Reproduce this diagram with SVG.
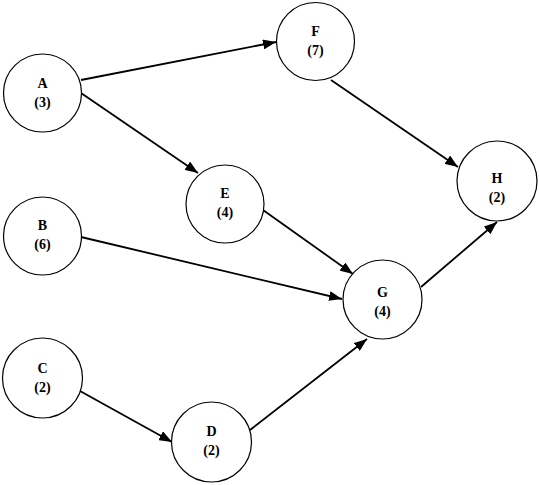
<svg xmlns="http://www.w3.org/2000/svg" width="539" height="485" viewBox="0 0 539 485">
<defs>
<style>
.node circle{fill:#fff;stroke:#000;stroke-width:1.2}
.node text{font-family:"Liberation Serif","Times New Roman",serif;font-weight:bold;font-size:14px;text-anchor:middle;fill:#000}
.edges line{stroke:#000;stroke-width:1.8}
</style>
<marker id="arr" markerUnits="userSpaceOnUse" markerWidth="14" markerHeight="10" refX="13" refY="5" orient="auto">
<path d="M0,0 L13,5 L0,10 Z" fill="#000"/>
</marker>
</defs>
<rect width="539" height="485" fill="#fff"/>
<g id="edges" class="edges">
<line x1="81" y1="80" x2="276" y2="42" marker-end="url(#arr)"/>
<line x1="81" y1="93" x2="198" y2="173" marker-end="url(#arr)"/>
<line x1="331" y1="80" x2="458" y2="167" marker-end="url(#arr)"/>
<line x1="263" y1="210" x2="353" y2="274" marker-end="url(#arr)"/>
<line x1="81" y1="237" x2="342" y2="299" marker-end="url(#arr)"/>
<line x1="421" y1="287" x2="497" y2="222" marker-end="url(#arr)"/>
<line x1="80" y1="391" x2="172" y2="442" marker-end="url(#arr)"/>
<line x1="250" y1="430" x2="367" y2="339" marker-end="url(#arr)"/>
</g>
<g id="A" class="node"><circle cx="42.5" cy="93" r="39"/><text x="42.5" y="88">A</text><text x="42.5" y="107">(3)</text></g>
<g id="F" class="node"><circle cx="315.5" cy="41.5" r="39"/><text x="315.5" y="36">F</text><text x="315.5" y="55">(7)</text></g>
<g id="E" class="node"><circle cx="225" cy="204" r="39"/><text x="225" y="198">E</text><text x="225" y="217">(4)</text></g>
<g id="H" class="node"><circle cx="497" cy="181" r="40"/><text x="497" y="183">H</text><text x="497" y="202">(2)</text></g>
<g id="B" class="node"><circle cx="42.5" cy="236" r="39"/><text x="42.5" y="230">B</text><text x="42.5" y="249">(6)</text></g>
<g id="G" class="node"><circle cx="382.5" cy="299.5" r="39.5"/><text x="382.5" y="297">G</text><text x="382.5" y="316">(4)</text></g>
<g id="C" class="node"><circle cx="42.5" cy="378" r="40"/><text x="42.5" y="373">C</text><text x="42.5" y="392">(2)</text></g>
<g id="D" class="node"><circle cx="211.5" cy="442" r="40"/><text x="211.5" y="436">D</text><text x="211.5" y="455">(2)</text></g>
</svg>
